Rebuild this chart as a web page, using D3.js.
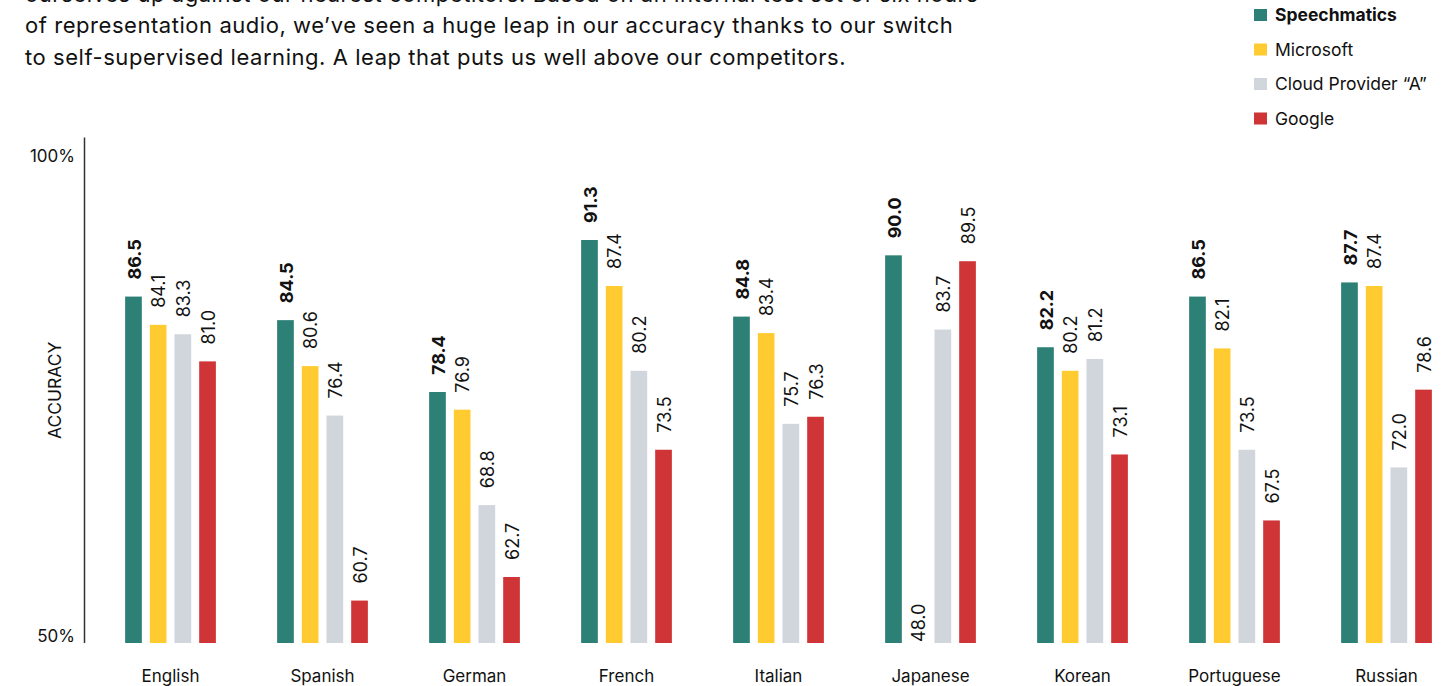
<!DOCTYPE html>
<html lang="en">
    <head>
        <meta charset="UTF-8">
        <title>Accuracy by language</title>
        <style>
            * { box-sizing: border-box; }
            body { margin: 0; background: #fff; font-family: 'Inter', 'Noto Sans', sans-serif; color: #111; }
            svg text { fill: #111; }
        </style>
    </head>
    <body>
        <div id="chart"></div>
        <script src="https://cdn.jsdelivr.net/npm/d3@7/dist/d3.min.js"></script>
        <script>
            // data
            var languages  = ['English', 'Spanish', 'German', 'French', 'Italian', 'Japanese', 'Korean', 'Portuguese', 'Russian'];
            var providers  = ['Speechmatics', 'Microsoft', 'Cloud Provider \u201CA\u201D', 'Google'];
            var speechmatics = [86.5, 84.5, 78.4, 91.3, 84.8, 90.0, 82.2, 86.5, 87.7];
            var microsoft    = [84.1, 80.6, 76.9, 87.4, 83.4, 48.0, 80.2, 82.1, 87.4];
            var cloudA       = [83.3, 76.4, 68.8, 80.2, 75.7, 83.7, 81.2, 73.5, 72.0];
            var google       = [81.0, 60.7, 62.7, 73.5, 76.3, 89.5, 73.1, 67.5, 78.6];
            var series       = [speechmatics, microsoft, cloudA, google];
            var colors       = ['#2d8075', '#ffcb30', '#d1d5dc', '#cf3436'];
            var yTickLabels  = ['50%', '100%'];
            var yTitle       = 'ACCURACY';
            var introLines   = [
                'ourselves up against our nearest competitors. Based on an internal test set of six hours',
                'of representation audio, we\u2019ve seen a huge leap in our accuracy thanks to our switch',
                'to self-supervised learning. A leap that puts us well above our competitors.'
            ];

            var W = 1455, H = 686;
            var svg = d3.select('#chart').append('svg').attr('width', W).attr('height', H);

            // intro paragraph (first line runs off the top edge, as in the page it was cut from)
            svg.append('g').selectAll('text').data(introLines).join('text')
                .attr('x', 25)
                .attr('y', function (d, i) { return i === 0 ? 2 : i * 32.5; })
                .style('font-size', '22px')
                .style('letter-spacing', '0.55px')
                .text(function (d) { return d; });

            // legend
            var legend = svg.append('g').attr('transform', 'translate(1254,9)');
            var li = legend.selectAll('g').data(providers).join('g')
                .attr('transform', function (d, i) { return 'translate(0,' + (i * 34.5) + ')'; });
            li.append('rect').attr('width', 13).attr('height', 12).attr('fill', function (d, i) { return colors[i]; });
            li.append('text').attr('x', 21).attr('y', 6).attr('dy', '0.35em')
                .style('font-size', '17.5px')
                .style('font-weight', function (d, i) { return i === 0 ? 700 : 400; })
                .text(function (d) { return d; });

            // scales
            var x = d3.scaleBand().domain(languages).range([94.5, 1462.5]).paddingInner(0.403).paddingOuter(0.2015);
            var xi = d3.scaleBand().domain(d3.range(providers.length)).range([0, x.bandwidth()]).paddingInner(0.324);
            var yDomain = [57.1, 100];
            var y = d3.scaleLinear().domain(yDomain).range([643, 137.5]).clamp(true);

            // y axis line
            svg.append('line')
                .attr('x1', 84.5).attr('x2', 84.5)
                .attr('y1', y(yDomain[1])).attr('y2', y(yDomain[0]))
                .attr('stroke', '#333').attr('stroke-width', 1.5);

            svg.append('text').attr('x', 75).attr('y', y(yDomain[0]) - 7).attr('dy', '0.35em')
                .attr('text-anchor', 'end').style('font-size', '17px').text(yTickLabels[0]);
            svg.append('text').attr('x', 75).attr('y', y(yDomain[1]) + 19).attr('dy', '0.35em')
                .attr('text-anchor', 'end').style('font-size', '17px').text(yTickLabels[1]);

            svg.append('text')
                .attr('transform', 'translate(55,' + ((y(yDomain[0]) + y(yDomain[1])) / 2) + ') rotate(-90)')
                .attr('dy', '0.35em').attr('text-anchor', 'middle')
                .style('font-size', '17.5px').text(yTitle);

            // bars
            var groups = svg.append('g').selectAll('g').data(languages).join('g')
                .attr('transform', function (d) { return 'translate(' + x(d) + ',0)'; });

            groups.each(function (lang, li) {
                var g = d3.select(this);
                var vals = series.map(function (s, si) { return { si: si, v: s[li] }; });
                g.selectAll('rect').data(vals).join('rect')
                    .attr('x', function (d) { return xi(d.si); })
                    .attr('width', xi.bandwidth())
                    .attr('y', function (d) { return y(d.v); })
                    .attr('height', function (d) { return y(yDomain[0]) - y(d.v); })
                    .attr('fill', function (d) { return colors[d.si]; });
                g.selectAll('text.val').data(vals).join('text')
                    .attr('class', 'val')
                    .attr('transform', function (d) {
                        var ty = d.v < yDomain[0] ? y(d.v) - 1 : y(d.v) - 17;
                        return 'translate(' + (xi(d.si) + xi.bandwidth() / 2 + 1) + ',' + ty + ') rotate(-90)';
                    })
                    .attr('dy', '0.35em')
                    .style('font-size', '18px')
                    .style('font-weight', function (d) { return d.si === 0 ? 700 : 400; })
                    .text(function (d) { return d.v.toFixed(1); });
            });

            // category labels
            svg.append('g').selectAll('text').data(languages).join('text')
                .attr('x', function (d) { return x(d) + x.bandwidth() / 2; })
                .attr('y', 676).attr('dy', '0.35em')
                .attr('text-anchor', 'middle')
                .style('font-size', '17px')
                .text(function (d) { return d; });
        </script>
    </body>
</html>
